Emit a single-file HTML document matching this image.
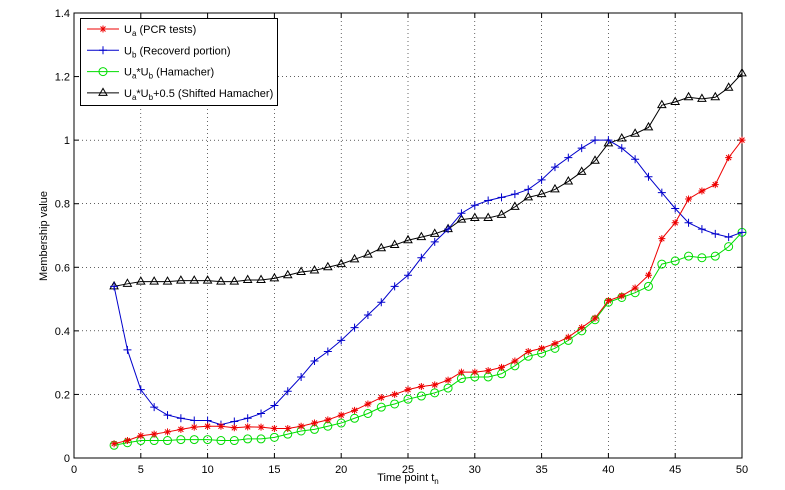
<!DOCTYPE html>
<html><head><meta charset="utf-8"><style>
html,body{margin:0;padding:0;background:#fff;}
svg{display:block;font-family:"Liberation Sans",sans-serif;}
</style></head><body>
<svg id="s" width="785" height="490" xmlns="http://www.w3.org/2000/svg"></svg>
<script>
const X0=74,X1=742,Y0=458,Y1=13;
const sx=t=>X0+t*(X1-X0)/50, sy=v=>Y0-v*(Y0-Y1)/1.4;
const red=[.045,.055,.07,.075,.082,.09,.097,.1,.1,.095,.098,.097,.093,.093,.1,.11,.12,.135,.15,.17,.19,.2,.215,.225,.23,.245,.27,.27,.275,.285,.305,.335,.345,.36,.38,.41,.44,.495,.51,.535,.575,.69,.74,.815,.84,.86,.945,1.0];
const green=[.04,.048,.055,.055,.055,.058,.058,.058,.055,.055,.06,.06,.065,.075,.085,.09,.1,.11,.125,.14,.16,.17,.185,.195,.205,.22,.25,.255,.255,.265,.29,.32,.33,.345,.37,.40,.435,.49,.505,.52,.54,.61,.62,.635,.63,.635,.665,.71];
const blue=[.54,.34,.215,.16,.135,.125,.118,.118,.105,.115,.125,.14,.165,.21,.255,.305,.335,.37,.41,.45,.49,.54,.575,.63,.68,.72,.77,.795,.81,.82,.83,.845,.875,.915,.945,.975,1.0,1.0,.975,.94,.885,.835,.785,.74,.72,.705,.695,.71];
const black=green.map(v=>v+0.5);
let h='';
// grid
for(let t=5;t<50;t+=5)h+=`<line x1="${sx(t)}" y1="${Y1}" x2="${sx(t)}" y2="${Y0}" stroke="#000" stroke-width="0.6" stroke-dasharray="1,3"/>`;
for(let i=1;i<7;i++){const v=i*0.2;h+=`<line x1="${X0}" y1="${sy(v)}" x2="${X1}" y2="${sy(v)}" stroke="#000" stroke-width="0.6" stroke-dasharray="1,3"/>`;}
h+=`<rect x="${X0}" y="${Y1}" width="${X1-X0}" height="${Y0-Y1}" fill="none" stroke="#000" stroke-width="1"/>`;
for(let t=0;t<=50;t+=5){h+=`<line x1="${sx(t)}" y1="${Y0}" x2="${sx(t)}" y2="${Y0-5}" stroke="#000"/><line x1="${sx(t)}" y1="${Y1}" x2="${sx(t)}" y2="${Y1+5}" stroke="#000"/><text x="${sx(t)}" y="${Y0+15}" font-size="11" text-anchor="middle">${t}</text>`;}
for(let i=0;i<=7;i++){const v=i*0.2;const lab=i==0?'0':(i==5?'1':v.toFixed(1));h+=`<line x1="${X0}" y1="${sy(v)}" x2="${X0+5}" y2="${sy(v)}" stroke="#000"/><line x1="${X1}" y1="${sy(v)}" x2="${X1-5}" y2="${sy(v)}" stroke="#000"/><text x="${X0-4}" y="${sy(v)+4}" font-size="11" text-anchor="end">${lab}</text>`;}
function mk(type,x,y,c){
 if(type=='star')return `<path d="M${x-3.5} ${y}h7M${x} ${y-3.5}v7M${x-2.5} ${y-2.5}l5 5M${x-2.5} ${y+2.5}l5 -5" stroke="${c}" stroke-width="1"/>`;
 if(type=='plus')return `<path d="M${x-4} ${y}h8M${x} ${y-4}v8" stroke="${c}" stroke-width="1"/>`;
 if(type=='circ')return `<circle cx="${x}" cy="${y}" r="4" fill="none" stroke="${c}" stroke-width="1"/>`;
 return `<path d="M${x} ${y-4.5}L${x+4} ${y+2.5}L${x-4} ${y+2.5}Z" fill="none" stroke="${c}" stroke-width="1"/>`;
}
function series(d,c,type){let p=d.map((v,i)=>`${sx(i+3)},${sy(v)}`).join(' ');let s=`<polyline points="${p}" fill="none" stroke="${c}" stroke-width="1"/>`;d.forEach((v,i)=>s+=mk(type,sx(i+3),sy(v),c));return s;}
h+=series(black,'#000','tri');
h+=series(green,'#00dd00','circ');
h+=series(blue,'#0000cc','plus');
h+=series(red,'#ee0000','star');
// legend
h+=`<rect x="80.5" y="18.5" width="197" height="87" fill="#fff" stroke="#000"/>`;
const L=[['#ee0000','star','U<tspan font-size="8" dy="3">a</tspan><tspan dy="-3"> (PCR tests)</tspan>'],
['#0000cc','plus','U<tspan font-size="8" dy="3">b</tspan><tspan dy="-3"> (Recoverd portion)</tspan>'],
['#00dd00','circ','U<tspan font-size="8" dy="3">a</tspan><tspan dy="-3">*U</tspan><tspan font-size="8" dy="3">b</tspan><tspan dy="-3"> (Hamacher)</tspan>'],
['#000','tri','U<tspan font-size="8" dy="3">a</tspan><tspan dy="-3">*U</tspan><tspan font-size="8" dy="3">b</tspan><tspan dy="-3">+0.5 (Shifted Hamacher)</tspan>']];
L.forEach((e,i)=>{const y=29+i*21.3;h+=`<line x1="87" y1="${y}" x2="119" y2="${y}" stroke="${e[0]}"/>`+mk(e[1],103,y,e[0])+`<text x="124" y="${y+4}" font-size="11">${e[2]}</text>`;});
h+=`<text x="408" y="481" font-size="11" text-anchor="middle">Time point t<tspan font-size="8" dy="3">n</tspan></text>`;
h+=`<text transform="translate(47,236) rotate(-90)" font-size="11" text-anchor="middle">Membership value</text>`;
document.getElementById('s').innerHTML=h;
</script>
</body></html>
